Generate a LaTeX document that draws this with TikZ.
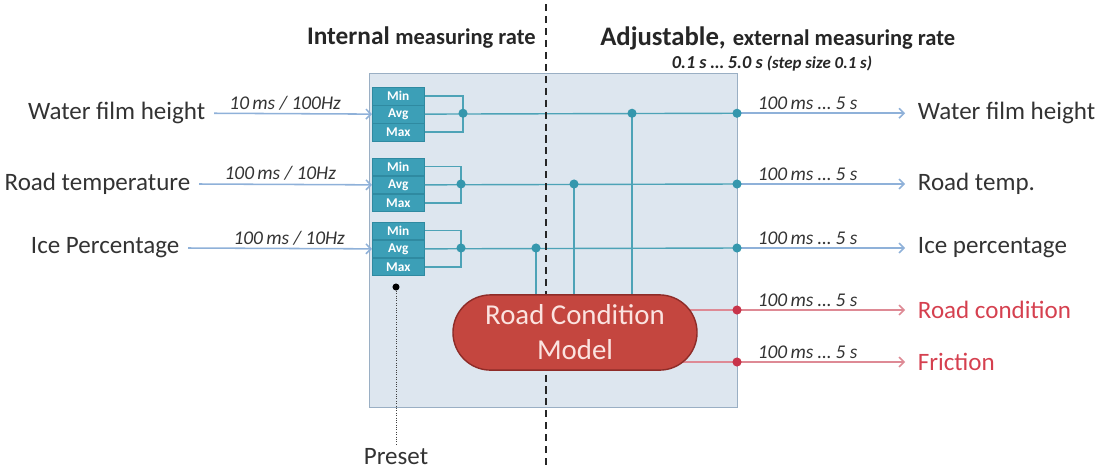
\documentclass[tikz,border=0pt]{standalone}
\usepackage{fontspec}
\setmainfont{Carlito}
\usetikzlibrary{arrows.meta,backgrounds,shapes.misc}

\definecolor{panelfill}{HTML}{DDE6EF}
\definecolor{paneledge}{HTML}{9AAFC4}
\definecolor{cellfill}{HTML}{3C9FB7}
\definecolor{celledge}{HTML}{2F8AA1}
\definecolor{tealline}{HTML}{4DA3B7}
\definecolor{tealdot}{HTML}{3597AD}
\definecolor{flowblue}{HTML}{8FB1D9}
\definecolor{redline}{HTML}{DE8A95}
\definecolor{reddot}{HTML}{C8344A}
\definecolor{redtext}{HTML}{D5404F}
\definecolor{modelfill}{HTML}{C4463F}
\definecolor{modeledge}{HTML}{8E2C28}
\definecolor{modeltext}{HTML}{FBE3E0}
\definecolor{labeltext}{HTML}{333333}

\tikzset{
  panel/.style={draw=paneledge, line width=0.8pt, fill=panelfill, inner sep=0pt,
    minimum width=9.2cm, minimum height=8.35cm, anchor=north west},
  cell/.style={draw=celledge, line width=0.4pt, fill=cellfill, text=white,
    font=\fontsize{9.5}{10}\selectfont\bfseries, inner sep=0pt,
    minimum width=1.3cm, minimum height=0.4375cm, anchor=north west},
  signame/.style={text=labeltext, font=\fontsize{17.8}{20}\selectfont, inner sep=6pt},
  outname/.style={signame, anchor=west, inner xsep=9pt},
  redname/.style={outname, text=redtext},
  ratelabel/.style={text=labeltext, font=\fontsize{13.8}{15}\selectfont\itshape, inner sep=2pt},
  inflow/.style={draw=flowblue, line width=1.1pt, -{Straight Barb[length=3.5pt,width=7pt]}},
  outflow/.style={inflow},
  redflow/.style={draw=redline, line width=1.1pt, -{Straight Barb[length=3.5pt,width=7pt]}},
  tealwire/.style={draw=tealline, line width=1pt},
  redwire/.style={draw=redline, line width=1.1pt},
  tdot/.style={circle, fill=tealdot, inner sep=0pt, minimum size=6.5pt},
  rdot/.style={circle, fill=reddot, inner sep=0pt, minimum size=6.5pt},
  model/.style={rounded rectangle, draw=modeledge, line width=1pt, fill=modelfill,
    text=modeltext, font=\fontsize{20.5}{25}\selectfont, align=center,
    minimum width=6.1cm, minimum height=1.88cm, inner sep=0pt},
  divider/.style={draw=black!85, line width=1.5pt, dash pattern=on 5pt off 3.5pt},
  head/.style={text=black!85, inner sep=0pt, font=\bfseries},
}

\begin{document}
\begin{tikzpicture}[x=0.025cm, y=-0.025cm]
\useasboundingbox (0,0) rectangle (1108,469);

% the processing unit (kept behind every wire)
\begin{scope}[on background layer]
  \node[panel] (unit) at (369,73) {};
\end{scope}

% column headings
\node[head, anchor=east] (hint) at (536,38)
  {{\fontsize{18}{21}\selectfont Internal}\hspace{4pt}{\fontsize{16}{18}\selectfont measuring rate}};
\node[head, anchor=west] (hext) at (600,38)
  {{\fontsize{19}{22}\selectfont Adjustable,}\hspace{5pt}{\fontsize{16}{18}\selectfont external measuring rate}};
\node[head, anchor=center, font=\bfseries\itshape] (hrange) at (772,64)
  {{\fontsize{13}{15}\selectfont 0.1 s \ldots\ 5.0 s}\hspace{3pt}{\fontsize{12}{14}\selectfont (step size 0.1 s)}};

% statistics blocks (Min / Avg / Max) for each input
\foreach \g/\top in {1/87, 2/157.75, 3/221.75}{
  \node[cell] (min\g) at (372,\top) {Min};
  \node[cell, anchor=north] (avg\g) at (min\g.south) {Avg};
  \node[cell, anchor=north] (max\g) at (avg\g.south) {Max};
}

% input signals
\node[signame, anchor=east] (in1) at (214,113.25) {Water film height};
\node[signame, anchor=east] (in2) at (199,184) {Road temperature};
\node[signame, anchor=east] (in3) at (188,248) {Ice Percentage};
\draw[inflow] (in1.east) -- node[ratelabel, above, pos=0.45] {10\,ms / 100Hz} (avg1.west);
\draw[inflow] (in2.east) -- node[ratelabel, above, pos=0.47] {100\,ms / 10Hz} (avg2.west);
\draw[inflow] (in3.east) -- node[ratelabel, above, pos=0.55] {100\,ms / 10Hz} (avg3.west);

% junction points
\coordinate (b1) at (463,113.25);
\coordinate (b2) at (461,184);
\coordinate (b3) at (461,248);
\coordinate (o1) at (737,113.25);
\coordinate (o2) at (737,184);
\coordinate (o3) at (737,248);
\coordinate (o4) at (737,310);
\coordinate (o5) at (737,362);
\coordinate (j1) at (632,113.25);
\coordinate (j2) at (574,184);
\coordinate (j3) at (536,248);

% brackets joining Min / Avg / Max and the signal buses
\foreach \g in {1,2,3}{
  \draw[tealwire] (min\g.east) -| (b\g) |- (max\g.east);
  \draw[tealwire] (avg\g.east) -- (o\g);
}

% output signal names
\node[outname] (out1) at (905,113.25) {Water film height};
\node[outname] (out2) at (905,184) {Road temp.};
\node[outname] (out3) at (905,248) {Ice percentage};
\node[redname] (out4) at (905,310) {Road condition};
\node[redname] (out5) at (905,362) {Friction};

\draw[outflow] (o1) -- node[ratelabel, above, pos=0.42] {100\,ms \ldots\ 5 s} (out1.west);
\draw[outflow] (o2) -- node[ratelabel, above, pos=0.42] {100\,ms \ldots\ 5 s} (out2.west);
\draw[outflow] (o3) -- node[ratelabel, above, pos=0.42] {100\,ms \ldots\ 5 s} (out3.west);
\draw[redflow] (o4) -- node[ratelabel, above, pos=0.42] {100\,ms \ldots\ 5 s} (out4.west);
\draw[redflow] (o5) -- node[ratelabel, above, pos=0.42] {100\,ms \ldots\ 5 s} (out5.west);

% divider between internal and external rates
\draw[divider] (546,4) -- (546,469);

% road condition model
\node[model] (rcm) at (575,332.5) {Road Condition\\Model};

% model inputs and outputs
\draw[tealwire] (j1) -- (j1 |- rcm.north);
\draw[tealwire] (j2) -- (j2 |- rcm.north);
\draw[tealwire] (j3) -- (j3 |- rcm.north);
\begin{scope}[on background layer]
  \draw[redwire] (rcm.center |- o4) -- (o4);
  \draw[redwire] (rcm.center |- o5) -- (o5);
\end{scope}

% junction dots
\foreach \p in {b1,b2,b3,o1,o2,o3,j1,j2,j3}{
  \node[tdot] at (\p) {};
}
\node[rdot] at (o4) {};
\node[rdot] at (o5) {};

% preset
\node[signame, anchor=north, inner sep=2pt] (preset) at (396,445) {Preset};
\node[circle, fill=black, inner sep=0pt, minimum size=5pt] (pdot) at (396,287) {};
\draw[black!75, line width=0.7pt, densely dotted] (pdot) -- (preset.north);
\end{tikzpicture}
\end{document}
